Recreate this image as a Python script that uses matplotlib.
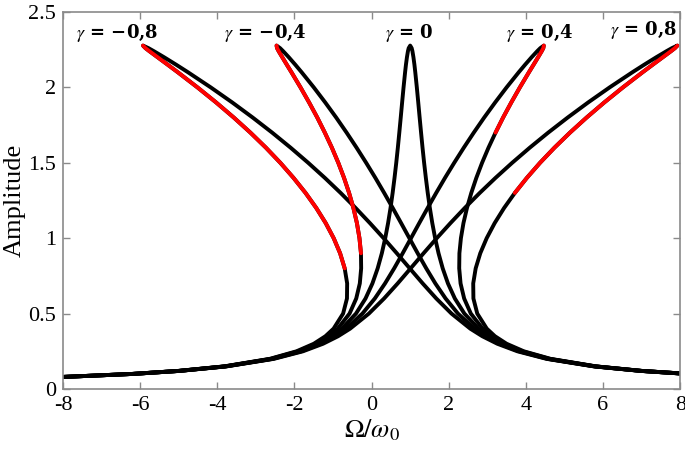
import numpy as np
import matplotlib.pyplot as plt

plt.rcParams['font.family'] = ['Liberation Serif', 'DejaVu Serif']
plt.rcParams['mathtext.fontset'] = 'stix'

# amplitude levels shared by all response curves (last value = peak tip)
amp = [0.08, 0.10, 0.12, 0.15, 0.20, 0.25, 0.30, 0.35, 0.40, 0.50,
       0.60, 0.70, 0.80, 0.90, 1.00, 1.10, 1.20, 1.30, 1.40, 1.50,
       1.60, 1.70, 1.80, 1.90, 2.00, 2.10, 2.15, 2.20, 2.24, 2.26, 2.277]

# Omega/omega0 read along the left branch (ends at the tip) and the right branch
om_left_m08 = [-8.003, -6.206, -5.011, -3.820, -2.639, -1.947, -1.499, -1.197, -0.986, -0.739,
               -0.639, -0.634, -0.698, -0.817, -0.983, -1.190, -1.434, -1.713, -2.025, -2.367,
               -2.740, -3.143, -3.574, -4.032, -4.516, -5.024, -5.286, -5.550, -5.762, -5.863, -5.927]
om_right_m08 = [9.985, 8.180, 6.973, 5.760, 4.533, 3.779, 3.259, 2.869, 2.558, 2.071,
                1.677, 1.324, 0.988, 0.653, 0.311, -0.044, -0.414, -0.803, -1.213, -1.645,
                -2.100, -2.579, -3.084, -3.614, -4.172, -4.760, -5.066, -5.382, -5.646, -5.785]

om_left_m04 = [-7.998, -6.200, -5.002, -3.805, -2.613, -1.905, -1.439, -1.115, -0.879, -0.572,
               -0.399, -0.306, -0.271, -0.276, -0.315, -0.381, -0.472, -0.584, -0.715, -0.864,
               -1.030, -1.213, -1.409, -1.621, -1.844, -2.078, -2.198, -2.317, -2.410, -2.451, -2.464]
om_right_m04 = [9.990, 8.186, 6.982, 5.775, 4.559, 3.821, 3.319, 2.951, 2.665, 2.238,
                1.918, 1.652, 1.416, 1.194, 0.979, 0.765, 0.548, 0.326, 0.097, -0.142,
                -0.390, -0.649, -0.919, -1.203, -1.500, -1.814, -1.978, -2.149, -2.294, -2.373]

om_left_0 = [-7.994, -6.193, -4.992, -3.790, -2.586, -1.863, -1.379, -1.033, -0.772, -0.405,
             -0.158, 0.021, 0.157, 0.265, 0.353, 0.427, 0.490, 0.545, 0.594, 0.639,
             0.680, 0.718, 0.755, 0.791, 0.828, 0.868, 0.890, 0.916, 0.942, 0.961, 1.000]
om_right_0 = [9.994, 8.193, 6.992, 5.790, 4.586, 3.863, 3.379, 3.033, 2.772, 2.405,
              2.158, 1.979, 1.843, 1.735, 1.647, 1.573, 1.510, 1.455, 1.406, 1.361,
              1.320, 1.282, 1.245, 1.209, 1.172, 1.132, 1.110, 1.084, 1.058, 1.039]

om_left_p04 = [-7.990, -6.186, -4.982, -3.775, -2.559, -1.821, -1.319, -0.951, -0.665, -0.238,
               0.083, 0.348, 0.585, 0.806, 1.021, 1.235, 1.452, 1.674, 1.903, 2.142,
               2.390, 2.649, 2.919, 3.203, 3.500, 3.814, 3.978, 4.149, 4.294, 4.373, 4.464]
om_right_p04 = [9.998, 8.200, 7.002, 5.805, 4.613, 3.905, 3.439, 3.115, 2.879, 2.572,
                2.399, 2.306, 2.271, 2.276, 2.315, 2.381, 2.472, 2.584, 2.715, 2.864,
                3.030, 3.213, 3.409, 3.621, 3.844, 4.078, 4.198, 4.317, 4.410, 4.451]

om_left_p08 = [-7.985, -6.180, -4.973, -3.760, -2.533, -1.779, -1.259, -0.869, -0.558, -0.071,
               0.323, 0.676, 1.012, 1.347, 1.689, 2.044, 2.414, 2.803, 3.213, 3.645,
               4.100, 4.579, 5.084, 5.614, 6.172, 6.760, 7.066, 7.382, 7.646, 7.785, 7.927]
om_right_p08 = [10.003, 8.206, 7.011, 5.820, 4.639, 3.947, 3.499, 3.197, 2.986, 2.739,
                2.639, 2.634, 2.698, 2.817, 2.983, 3.190, 3.434, 3.713, 4.025, 4.367,
                4.740, 5.143, 5.574, 6.032, 6.516, 7.024, 7.286, 7.550, 7.762, 7.863]

gammas = [-0.8, -0.4, 0.0, 0.4, 0.8]
gamma_labels = ['$\\gamma$ = \u22120,8', '$\\gamma$ = \u22120,4', '$\\gamma$ = 0',
                '$\\gamma$ = 0,4', '$\\gamma$ = 0,8']
label_x = [-6.6, -2.75, 0.97, 4.35, 7.05]
label_y = [2.36, 2.36, 2.36, 2.36, 2.38]
# amplitude where the red part starts, up to the tip
red_from = [0.80, 0.90, None, 1.70, 1.30]

lefts = [om_left_m08, om_left_m04, om_left_0, om_left_p04, om_left_p08]
rights = [om_right_m08, om_right_m04, om_right_0, om_right_p04, om_right_p08]

fig = plt.figure(figsize=(6.85, 4.59), dpi=100)
ax = fig.add_axes([0.092, 0.1525, 0.901, 0.8215])

lw = 2.8
for g, L, R in zip(gammas, lefts, rights):
    x = L + R[::-1]
    y = amp + amp[:len(R)][::-1]
    ax.plot(x, y, color='black', lw=lw, solid_capstyle='round', solid_joinstyle='round')

for g, L, R, a0 in zip(gammas, lefts, rights, red_from):
    if a0 is None:
        continue
    i0 = amp.index(a0)
    if g < 0:
        xr = L[i0:]
        yr = amp[i0:]
    else:
        xr = R[i0:] + [L[-1]]
        yr = amp[i0:len(R)] + [amp[-1]]
    ax.plot(xr, yr, color='red', lw=lw, solid_capstyle='round', solid_joinstyle='round')

for lab, tx, ty in zip(gamma_labels, label_x, label_y):
    ax.text(tx, ty, lab, ha='center', va='center', fontsize=13,
            family='DejaVu Serif', fontweight='bold')

ax.set_xlim(-8, 8)
ax.set_ylim(0, 2.5)
ax.set_xticks(np.arange(-8, 9, 2))
ax.set_yticks([0, 0.5, 1, 1.5, 2, 2.5])
ax.set_yticklabels(['0', '0.5', '1', '1.5', '2', '2.5'])
ax.set_xticklabels(['-8', '-6', '-4', '-2', '0', '2', '4', '6', '8'])

for s in ax.spines.values():
    s.set_color('#8a8a8a')
    s.set_linewidth(1.2)
ax.tick_params(direction='in', top=True, right=True, length=5, width=1,
               color='#8a8a8a', labelsize=16, pad=5,
               labelfontfamily='Liberation Serif')

ax.set_xlabel('$\\Omega/\\omega_0$', fontsize=19, labelpad=2)
ax.set_ylabel('Amplitude', fontsize=19, labelpad=2)

fig.savefig('out.png', dpi=100)
